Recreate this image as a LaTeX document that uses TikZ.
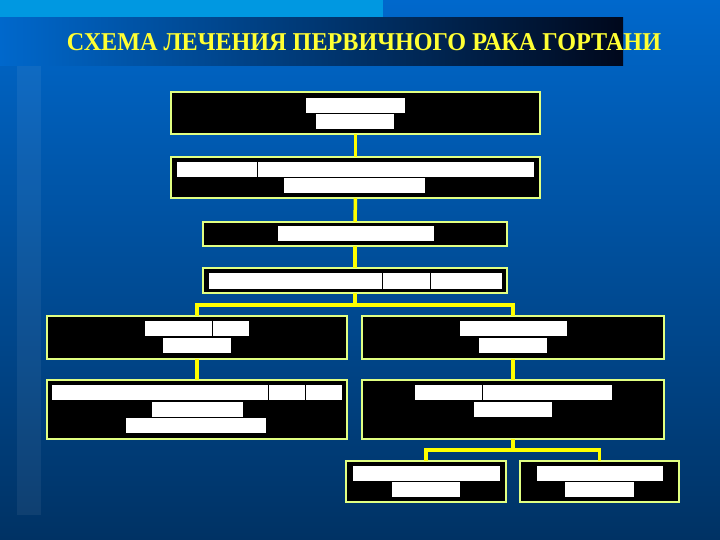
\documentclass[tikz,border=0pt]{standalone}
\usepackage{fontspec}
\setmainfont{Liberation Serif}
\usepackage{graphicx}
\definecolor{bgtop}{RGB}{0,104,204}
\definecolor{bgbot}{RGB}{0,50,100}
\definecolor{lightstrip}{RGB}{0,152,225}
\definecolor{titledark}{RGB}{0,8,28}
\definecolor{titletext}{RGB}{255,255,51}
\definecolor{boxline}{RGB}{225,255,130}
\definecolor{conncol}{RGB}{255,255,0}
\tikzset{
  box/.style={draw=boxline, line width=1.2pt, fill=black, inner sep=0pt, outer sep=0pt},
  wbar/.style={fill=white, draw=none, inner sep=0pt, outer sep=0pt},
  conn/.style={draw=conncol, line width=3.5pt},
}
% \wbar{name}{x1}{y1}{x2}{y2}
\newcommand{\wbar}[5]{\node[wbar, minimum width={(#4)-(#2)}, minimum height={(#5)-(#3)}] (#1) at ({((#2)+(#4))/2},{((#3)+(#5))/2}) {};}
% \cbox{name}{x1}{y1}{x2}{y2}
\newcommand{\cbox}[5]{\node[box, minimum width={(#4)-(#2)}, minimum height={(#5)-(#3)}] (#1) at ({((#2)+(#4))/2},{((#3)+(#5))/2}) {};}
\begin{document}
\begin{tikzpicture}[x=1pt,y=-1pt]
\useasboundingbox (0,0) rectangle (720,540);
% background
\shade[top color=bgtop, bottom color=bgbot] (0,0) rectangle (720,540);
\fill[lightstrip] (0,0) rectangle (383,18);
\fill[white, opacity=0.06] (17,18) rectangle (41,515);
\shade[left color=bgtop, right color=titledark] (0,18) rectangle (623,66);
\node[inner sep=0pt, text=titletext] (title) at (364,42)
  {\resizebox{594pt}{17pt}{\bfseries СХЕМА ЛЕЧЕНИЯ ПЕРВИЧНОГО РАКА ГОРТАНИ}};

% connectors (drawn first, boxes cover ends)
\cbox{b1}{171}{92}{540}{134}
\cbox{b2}{171}{157}{540}{198}
\cbox{b3}{203}{222}{507}{246}
\cbox{b4}{203}{268}{507}{293}
\cbox{b5}{47}{316}{347}{359}
\cbox{b6}{362}{316}{664}{359}
\cbox{b7}{47}{380}{347}{439}
\cbox{b8}{362}{380}{664}{439}
\cbox{b9}{346}{461}{506}{502}
\cbox{b10}{520}{461}{679}{502}

\coordinate (j1) at (355,305);
\coordinate (j2) at (513,450);
\draw[conn] (b1.south) -- (b2.north);
\draw[conn] (b2.south) -- (b3.north);
\draw[conn] (b3.south) -- (b4.north);
\draw[conn] (b4.south) -- (j1);
\draw[conn] (j1) -| (b5.north);
\draw[conn] (j1) -| (b6.north);
\draw[conn] (b5.south) -- (b7.north);
\draw[conn] (b6.south) -- (b8.north);
\draw[conn] (b8.south) -- (j2);
\draw[conn] (j2) -| (b9.north);
\draw[conn] (j2) -| (b10.north);

% white bars
\wbar{w1a}{306}{98}{405}{113}
\wbar{w1b}{316}{114}{394}{129}
\wbar{w2a}{177}{162}{257}{177}
\wbar{w2b}{258}{162}{534}{177}
\wbar{w2c}{284}{178}{425}{193}
\wbar{w3a}{278}{226}{434}{241}
\wbar{w4a}{209}{273}{382}{289}
\wbar{w4b}{383}{273}{430}{289}
\wbar{w4c}{431}{273}{502}{289}
\wbar{w5a}{145}{321}{212}{336}
\wbar{w5b}{213}{321}{249}{336}
\wbar{w5c}{163}{338}{231}{353}
\wbar{w6a}{460}{321}{567}{336}
\wbar{w6b}{479}{338}{547}{353}
\wbar{w7a}{52}{385}{268}{400}
\wbar{w7b}{269}{385}{305}{400}
\wbar{w7c}{306}{385}{342}{400}
\wbar{w7d}{152}{402}{243}{417}
\wbar{w7e}{126}{418}{266}{433}
\wbar{w8a}{415}{385}{482}{400}
\wbar{w8b}{483}{385}{612}{400}
\wbar{w8c}{474}{402}{552}{417}
\wbar{w9a}{353}{466}{500}{481}
\wbar{w9b}{392}{482}{460}{497}
\wbar{w10a}{537}{466}{663}{481}
\wbar{w10b}{565}{482}{634}{497}
\end{tikzpicture}
\end{document}
